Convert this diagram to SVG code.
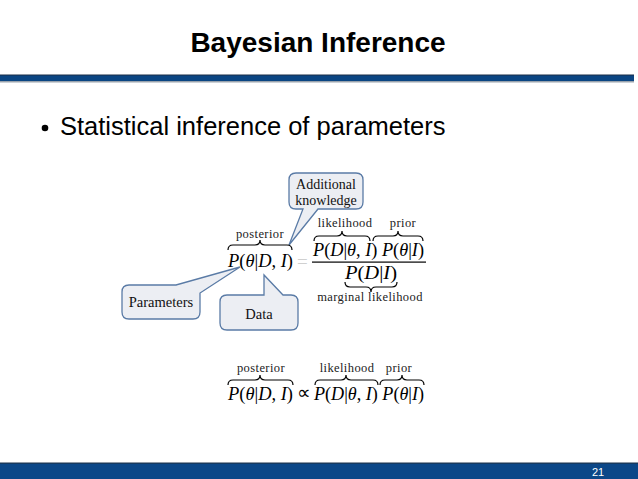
<svg xmlns="http://www.w3.org/2000/svg" width="638" height="479" viewBox="0 0 638 479">
<style>
.title{font-family:"Liberation Sans",Arial,sans-serif;font-weight:bold;font-size:28px;fill:#000}
.bullet{font-family:"Liberation Sans",Arial,sans-serif;font-size:25.5px;fill:#000}
.call{fill:#eceef3;stroke:#5a7ba6;stroke-width:1.3}
.ctext{font-family:"Liberation Serif","Times New Roman",serif;font-size:14.5px;fill:#111;text-anchor:middle}
.m{font-family:"Liberation Serif","Times New Roman",serif;font-size:19px;fill:#000}
.lbl{font-family:"Liberation Serif","Times New Roman",serif;font-size:12.5px;letter-spacing:0.4px;fill:#222}
.i{font-style:italic}
.brace{fill:none;stroke:#000;stroke-width:1.2}
</style>
<rect width="638" height="479" fill="#ffffff"/>
<g id="header">
<text class="title" x="318" y="52" text-anchor="middle">Bayesian Inference</text>
<rect x="0" y="75" width="634" height="6" fill="#0a4583"/>
<rect x="0" y="74.5" width="634" height="1" fill="#1b2f48"/>
<rect x="0" y="81" width="634" height="1.5" fill="#9aa3ad"/>
</g>
<g id="bullet">
<circle cx="45" cy="128" r="3.3" fill="#000"/>
<text class="bullet" x="60" y="135">Statistical inference of parameters</text>
</g>
<g id="callout-additional">
<path class="call" d="M296,173 H356 Q363,173 363,180 V202 Q363,209 356,209 H318 L289,245 L303,209 H296 Q289,209 289,202 V180 Q289,173 296,173 Z"/>
<text class="ctext" x="326" y="188.5" style="font-size:14px">Additional</text>
<text class="ctext" x="326" y="205" style="font-size:14px">knowledge</text>
</g>
<g id="callout-parameters">
<path class="call" d="M129,285 H176 L240,267 L200,293 V312 Q200,319 193,319 H129 Q122,319 122,312 V292 Q122,285 129,285 Z"/>
<text class="ctext" x="161" y="307">Parameters</text>
</g>
<g id="callout-data">
<path class="call" d="M227,295 H264 V275 L283,295 H291 Q298,295 298,302 V323 Q298,330 291,330 H227 Q220,330 220,323 V302 Q220,295 227,295 Z"/>
<text class="ctext" x="259" y="319">Data</text>
</g>
<g id="eq1">
<text class="lbl" x="260" y="238" text-anchor="middle">posterior</text>
<path class="brace" d="M228,250 Q228,245 233,245 L255,245 Q260,245 260,240 Q260,245 265,245 L287,245 Q292,245 292,250"/>
<text class="m" x="228" y="267" textLength="65" lengthAdjust="spacingAndGlyphs"><tspan class="i">P</tspan>(<tspan class="i">θ</tspan>|<tspan class="i">D</tspan>, <tspan class="i">I</tspan>)</text>
<text class="m" x="297" y="268" style="fill:#d0d0d0">=</text>
<text class="lbl" x="345" y="227" text-anchor="middle">likelihood</text>
<text class="lbl" x="403" y="227" text-anchor="middle">prior</text>
<path class="brace" d="M314,241 Q314,236 319,236 L337,236 Q342,236 342,231 Q342,236 347,236 L365,236 Q370,236 370,241"/>
<path class="brace" d="M373,241 Q373,236 378,236 L393,236 Q398,236 398,231 Q398,236 403,236 L418,236 Q423,236 423,241"/>
<text class="m" x="313" y="256" textLength="111" lengthAdjust="spacingAndGlyphs"><tspan class="i">P</tspan>(<tspan class="i">D</tspan>|<tspan class="i">θ</tspan>, <tspan class="i">I</tspan>) <tspan class="i">P</tspan>(<tspan class="i">θ</tspan>|<tspan class="i">I</tspan>)</text>
<rect x="312" y="261.5" width="114" height="1.2" fill="#000"/>
<text class="m" x="345" y="278.5" textLength="52" lengthAdjust="spacingAndGlyphs"><tspan class="i">P</tspan>(<tspan class="i">D</tspan>|<tspan class="i">I</tspan>)</text>
<path class="brace" d="M345,282 Q345,287 350,287 L366,287 Q371,287 371,292 Q371,287 376,287 L392,287 Q397,287 397,282"/>
<text class="lbl" x="370" y="301" text-anchor="middle">marginal likelihood</text>
</g>
<g id="eq2">
<text class="lbl" x="261" y="372" text-anchor="middle">posterior</text>
<path class="brace" d="M228,385 Q228,380 233,380 L255,380 Q260,380 260,375 Q260,380 265,380 L288,380 Q293,380 293,385"/>
<text class="m" x="228" y="400" textLength="65" lengthAdjust="spacingAndGlyphs"><tspan class="i">P</tspan>(<tspan class="i">θ</tspan>|<tspan class="i">D</tspan>, <tspan class="i">I</tspan>)</text>
<text class="m" x="297" y="399">∝</text>
<text class="lbl" x="347" y="372" text-anchor="middle">likelihood</text>
<text class="lbl" x="399" y="372" text-anchor="middle">prior</text>
<path class="brace" d="M315,385 Q315,380 320,380 L341,380 Q346,380 346,375 Q346,380 351,380 L373,380 Q378,380 378,385"/>
<path class="brace" d="M380,385 Q380,380 385,380 L397,380 Q402,380 402,375 Q402,380 407,380 L419,380 Q424,380 424,385"/>
<text class="m" x="314" y="400" textLength="110" lengthAdjust="spacingAndGlyphs"><tspan class="i">P</tspan>(<tspan class="i">D</tspan>|<tspan class="i">θ</tspan>, <tspan class="i">I</tspan>) <tspan class="i">P</tspan>(<tspan class="i">θ</tspan>|<tspan class="i">I</tspan>)</text>
</g>
<g id="footer">
<rect x="0" y="463" width="638" height="16" fill="#0b4788"/>
<rect x="0" y="462.5" width="638" height="1.2" fill="#1d3550"/>
<text x="592" y="476" font-family="Liberation Sans,Arial,sans-serif" font-size="11" fill="#ffffff">21</text>
</g>
</svg>
